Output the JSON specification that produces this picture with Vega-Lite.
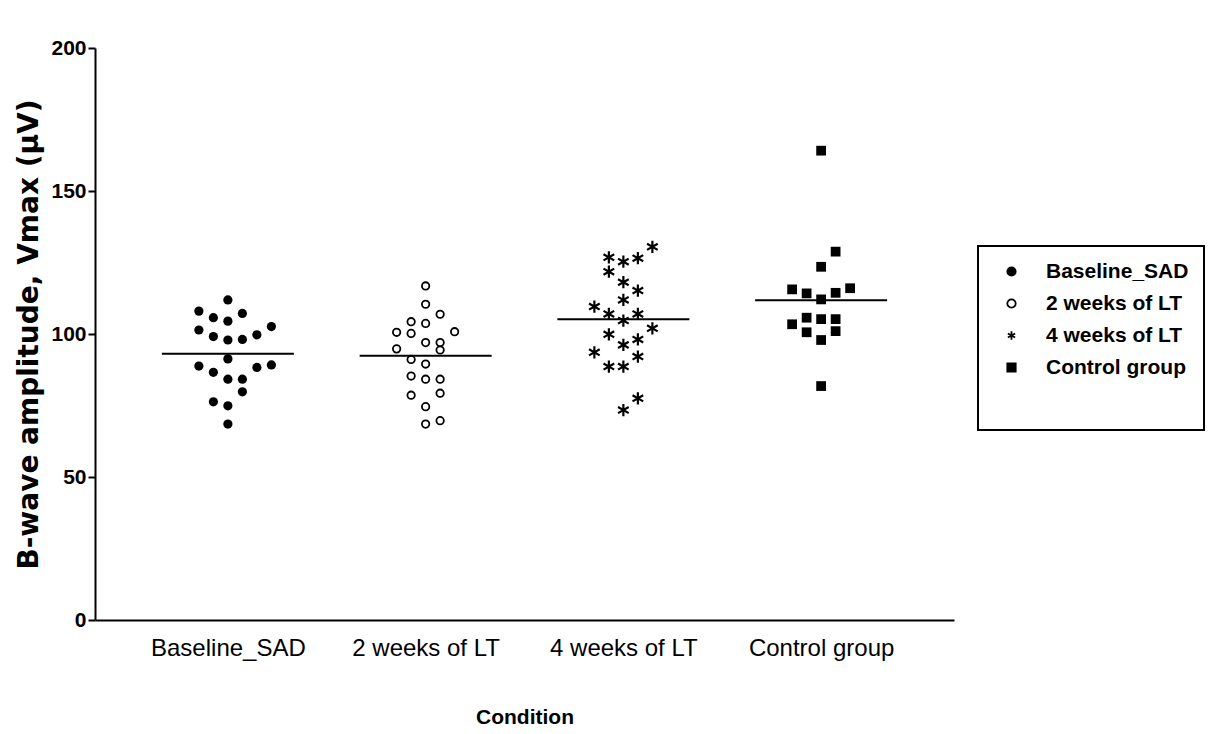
{
  "$schema": "https://vega.github.io/schema/vega-lite/v6.json",
  "autosize": {"type": "none"},
  "width": 859,
  "height": 572,
  "padding": {"left": 95, "top": 48, "right": 271, "bottom": 114},
  "background": "white",
  "config": {
    "view": {"stroke": null},
    "font": "Liberation Sans",
    "legend": {"strokeColor": "black", "strokeWidth": 2}
  },
  "data": {
    "values": [
      {"c": "Baseline_SAD", "v": 111.9, "col": 0},
      {"c": "Baseline_SAD", "v": 108.0, "col": -2},
      {"c": "Baseline_SAD", "v": 105.7, "col": -1},
      {"c": "Baseline_SAD", "v": 104.5, "col": 0},
      {"c": "Baseline_SAD", "v": 107.2, "col": 1},
      {"c": "Baseline_SAD", "v": 101.4, "col": -2},
      {"c": "Baseline_SAD", "v": 99.1, "col": -1},
      {"c": "Baseline_SAD", "v": 97.9, "col": 0},
      {"c": "Baseline_SAD", "v": 98.1, "col": 1},
      {"c": "Baseline_SAD", "v": 99.7, "col": 2},
      {"c": "Baseline_SAD", "v": 102.6, "col": 3},
      {"c": "Baseline_SAD", "v": 91.3, "col": 0},
      {"c": "Baseline_SAD", "v": 88.8, "col": -2},
      {"c": "Baseline_SAD", "v": 86.6, "col": -1},
      {"c": "Baseline_SAD", "v": 88.3, "col": 2},
      {"c": "Baseline_SAD", "v": 89.2, "col": 3},
      {"c": "Baseline_SAD", "v": 84.2, "col": 0},
      {"c": "Baseline_SAD", "v": 84.2, "col": 1},
      {"c": "Baseline_SAD", "v": 79.8, "col": 1},
      {"c": "Baseline_SAD", "v": 76.3, "col": -1},
      {"c": "Baseline_SAD", "v": 74.9, "col": 0},
      {"c": "Baseline_SAD", "v": 68.5, "col": 0},
      {"c": "2 weeks of LT", "v": 116.8, "col": 0},
      {"c": "2 weeks of LT", "v": 110.4, "col": 0},
      {"c": "2 weeks of LT", "v": 106.9, "col": 1},
      {"c": "2 weeks of LT", "v": 104.3, "col": -1},
      {"c": "2 weeks of LT", "v": 103.7, "col": 0},
      {"c": "2 weeks of LT", "v": 100.6, "col": -2},
      {"c": "2 weeks of LT", "v": 100.2, "col": -1},
      {"c": "2 weeks of LT", "v": 100.8, "col": 2},
      {"c": "2 weeks of LT", "v": 97.0, "col": 0},
      {"c": "2 weeks of LT", "v": 97.0, "col": 1},
      {"c": "2 weeks of LT", "v": 94.8, "col": -2},
      {"c": "2 weeks of LT", "v": 94.4, "col": 1},
      {"c": "2 weeks of LT", "v": 91.1, "col": -1},
      {"c": "2 weeks of LT", "v": 89.5, "col": 0},
      {"c": "2 weeks of LT", "v": 85.3, "col": -1},
      {"c": "2 weeks of LT", "v": 84.2, "col": 0},
      {"c": "2 weeks of LT", "v": 84.2, "col": 1},
      {"c": "2 weeks of LT", "v": 78.6, "col": -1},
      {"c": "2 weeks of LT", "v": 79.3, "col": 1},
      {"c": "2 weeks of LT", "v": 74.6, "col": 0},
      {"c": "2 weeks of LT", "v": 68.5, "col": 0},
      {"c": "2 weeks of LT", "v": 69.7, "col": 1},
      {"c": "4 weeks of LT", "v": 130.5, "col": 2},
      {"c": "4 weeks of LT", "v": 126.8, "col": -1},
      {"c": "4 weeks of LT", "v": 125.3, "col": 0},
      {"c": "4 weeks of LT", "v": 126.5, "col": 1},
      {"c": "4 weeks of LT", "v": 121.8, "col": -1},
      {"c": "4 weeks of LT", "v": 118.1, "col": 0},
      {"c": "4 weeks of LT", "v": 115.2, "col": 1},
      {"c": "4 weeks of LT", "v": 111.9, "col": 0},
      {"c": "4 weeks of LT", "v": 109.6, "col": -2},
      {"c": "4 weeks of LT", "v": 107.0, "col": -1},
      {"c": "4 weeks of LT", "v": 107.0, "col": 1},
      {"c": "4 weeks of LT", "v": 104.7, "col": 0},
      {"c": "4 weeks of LT", "v": 102.0, "col": 2},
      {"c": "4 weeks of LT", "v": 99.9, "col": -1},
      {"c": "4 weeks of LT", "v": 98.1, "col": 1},
      {"c": "4 weeks of LT", "v": 96.2, "col": 0},
      {"c": "4 weeks of LT", "v": 93.6, "col": -2},
      {"c": "4 weeks of LT", "v": 92.1, "col": 1},
      {"c": "4 weeks of LT", "v": 88.6, "col": -1},
      {"c": "4 weeks of LT", "v": 88.6, "col": 0},
      {"c": "4 weeks of LT", "v": 77.5, "col": 1},
      {"c": "4 weeks of LT", "v": 73.4, "col": 0},
      {"c": "Control group", "v": 164.1, "col": 0},
      {"c": "Control group", "v": 128.8, "col": 1},
      {"c": "Control group", "v": 123.5, "col": 0},
      {"c": "Control group", "v": 115.6, "col": -2},
      {"c": "Control group", "v": 114.2, "col": -1},
      {"c": "Control group", "v": 112.1, "col": 0},
      {"c": "Control group", "v": 114.4, "col": 1},
      {"c": "Control group", "v": 116.0, "col": 2},
      {"c": "Control group", "v": 103.4, "col": -2},
      {"c": "Control group", "v": 105.7, "col": -1},
      {"c": "Control group", "v": 105.2, "col": 0},
      {"c": "Control group", "v": 105.2, "col": 1},
      {"c": "Control group", "v": 100.6, "col": -1},
      {"c": "Control group", "v": 101.0, "col": 1},
      {"c": "Control group", "v": 97.9, "col": 0},
      {"c": "Control group", "v": 81.8, "col": 0}
    ]
  },
  "encoding": {
    "x": {
      "field": "c",
      "type": "nominal",
      "title": "Condition",
      "scale": {"type": "point", "padding": 0.672, "domain": ["Baseline_SAD", "2 weeks of LT", "4 weeks of LT", "Control group"]},
      "axis": {
        "labelAngle": 0,
        "ticks": false,
        "labelPadding": 16,
        "labelFont": "Liberation Sans",
        "labelFontSize": 24,
        "labelColor": "black",
        "domainColor": "black",
        "domainWidth": 2,
        "titleFont": "Liberation Sans",
        "titleFontSize": 21,
        "titleFontWeight": "bold",
        "titleColor": "black",
        "titlePadding": 46
      }
    },
    "y": {
      "field": "v",
      "type": "quantitative",
      "title": "B-wave amplitude, Vmax (µV)",
      "scale": {"domain": [0, 200], "nice": false, "zero": true},
      "axis": {
        "values": [0, 50, 100, 150, 200],
        "grid": false,
        "tickSize": 7,
        "tickWidth": 2,
        "tickColor": "black",
        "domainColor": "black",
        "domainWidth": 2,
        "labelPadding": 2,
        "labelFont": "Liberation Sans",
        "labelFontSize": 21,
        "labelFontWeight": "bold",
        "labelColor": "black",
        "titleFont": "DejaVu Sans",
        "titleFontSize": 28,
        "titleFontWeight": "bold",
        "titleColor": "black",
        "titlePadding": 7
      }
    }
  },
  "layer": [
    {
      "encoding": {
        "xOffset": {
          "field": "col",
          "type": "quantitative",
          "scale": {"domain": [-3, 3], "range": [-43.5, 43.5]}
        },
        "shape": {
          "field": "c",
          "type": "nominal",
          "title": "\u00a0\u00a0\u00a0\u00a0\u00a0\u00a0\u00a0\u00a0\u00a0\u00a0\u00a0\u00a0\u00a0\u00a0\u00a0\u00a0\u00a0\u00a0\u00a0\u00a0\u00a0\u00a0\u00a0\u00a0\u00a0\u00a0\u00a0\u00a0\u00a0\u00a0\u00a0\u00a0\u00a0\u00a0\u00a0\u00a0\u00a0\u00a0",
          "scale": {
            "domain": ["Baseline_SAD", "2 weeks of LT", "4 weeks of LT", "Control group"],
            "range": ["circle", "circle", "M0,-1L0,1M-0.87,-0.5L0.87,0.5M-0.87,0.5L0.87,-0.5", "square"]
          },
          "legend": {
            "orient": "none",
            "legendX": 883,
            "legendY": 198,
            "padding": 15,
            "rowPadding": 10,
            "symbolOffset": 8,
            "symbolSize": 70,
            "symbolStrokeWidth": 1.8,
            "labelFont": "Liberation Sans",
            "labelFontSize": 21,
            "labelFontWeight": "bold",
            "labelColor": "black",
            "labelOffset": 24,
            "labelLimit": 300,
            "titleOrient": "bottom",
            "titleFontSize": 20,
            "titlePadding": 17,
            "titleLimit": 400
          }
        },
        "fill": {
          "field": "c",
          "type": "nominal",
          "title": "\u00a0\u00a0\u00a0\u00a0\u00a0\u00a0\u00a0\u00a0\u00a0\u00a0\u00a0\u00a0\u00a0\u00a0\u00a0\u00a0\u00a0\u00a0\u00a0\u00a0\u00a0\u00a0\u00a0\u00a0\u00a0\u00a0\u00a0\u00a0\u00a0\u00a0\u00a0\u00a0\u00a0\u00a0\u00a0\u00a0\u00a0\u00a0",
          "scale": {
            "domain": ["Baseline_SAD", "2 weeks of LT", "4 weeks of LT", "Control group"],
            "range": ["black", "white", "black", "black"]
          }
        },
        "stroke": {
          "field": "c",
          "type": "nominal",
          "title": "\u00a0\u00a0\u00a0\u00a0\u00a0\u00a0\u00a0\u00a0\u00a0\u00a0\u00a0\u00a0\u00a0\u00a0\u00a0\u00a0\u00a0\u00a0\u00a0\u00a0\u00a0\u00a0\u00a0\u00a0\u00a0\u00a0\u00a0\u00a0\u00a0\u00a0\u00a0\u00a0\u00a0\u00a0\u00a0\u00a0\u00a0\u00a0",
          "scale": {
            "domain": ["Baseline_SAD", "2 weeks of LT", "4 weeks of LT", "Control group"],
            "range": ["black", "black", "black", "black"]
          }
        }
      },
      "layer": [
        {
          "transform": [{"filter": "datum.c === 'Baseline_SAD'"}],
          "mark": {"type": "point", "filled": true, "strokeWidth": 0, "size": 85, "opacity": 1}
        },
        {
          "transform": [{"filter": "datum.c === '2 weeks of LT'"}],
          "mark": {"type": "point", "filled": true, "strokeWidth": 1.8, "size": 55, "opacity": 1}
        },
        {
          "transform": [{"filter": "datum.c === '4 weeks of LT'"}],
          "mark": {"type": "point", "filled": true, "strokeWidth": 2.2, "size": 150, "opacity": 1}
        },
        {
          "transform": [{"filter": "datum.c === 'Control group'"}],
          "mark": {"type": "point", "filled": true, "strokeWidth": 0, "size": 95, "opacity": 1}
        }
      ]
    },
    {
      "mark": {"type": "tick", "size": 132, "thickness": 2, "color": "black", "opacity": 1},
      "encoding": {
        "y": {"aggregate": "mean", "field": "v", "type": "quantitative"}
      }
    }
  ]
}
